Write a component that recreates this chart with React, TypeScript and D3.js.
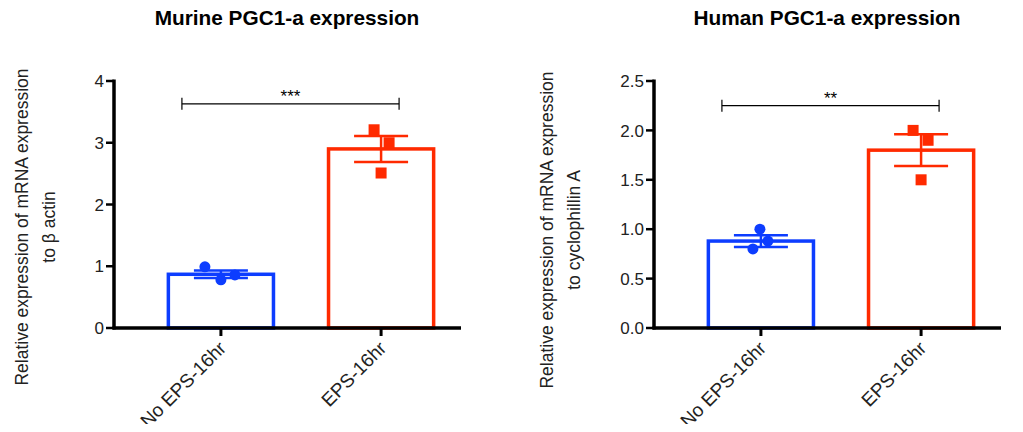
import React from 'react';
import * as d3 from 'd3';

// categories and values
const groups = ['No EPS-16hr', 'EPS-16hr'];
const colors = ['#0d3dff', '#ff2a00'];

const murineMeans = [0.87, 2.9];
const murineSem = [0.06, 0.21];
const murinePoints = [[0.99, 0.78, 0.86], [3.21, 3.0, 2.51]];
const murineTicks = [0, 1, 2, 3, 4];

const humanMeans = [0.88, 1.8];
const humanSem = [0.06, 0.16];
const humanPoints = [[0.8, 1.0, 0.88], [2.0, 1.9, 1.5]];
const humanTicks = [0, 0.5, 1.0, 1.5, 2.0, 2.5];

const FONT = 'Liberation Sans, Arial, sans-serif';

type PanelProps = {
  left: number;
  title: string;
  ylab: string[];
  labX: number;
  labY: number;
  means: number[];
  sem: number[];
  points: number[][];
  ticks: number[];
  yMax: number;
  fmt: (v: number) => string;
  bracket: number;
  stars: string;
  jitter: number[][];
};

function Panel(p: PanelProps) {
  const x0 = p.left;
  const width = 347;
  const top = 81;
  const bottom = 328;
  const y = d3.scaleLinear().domain([0, p.yMax]).range([bottom, top]);
  const x = d3.scaleBand().domain(groups).range([x0, x0 + 374]).paddingInner(0.325).paddingOuter(0.33);
  const bw = x.bandwidth();
  const cx = (g: string) => (x(g) as number) + bw / 2;
  const bx1 = cx(groups[0]) - 39;
  const bx2 = cx(groups[1]) + 18;

  return (
    <g>
      <text x={x0 + 173} y={25} textAnchor="middle" fontFamily={FONT} fontWeight="bold" fontSize={20.8}>{p.title}</text>
      <g transform={`translate(${p.labX},${p.labY}) rotate(-90)`}>
        {p.ylab.map((l, i) => (
          <text key={i} x={0} y={i * 27} textAnchor="middle" fontFamily={FONT} fontSize={17.5} fill="#222">{l}</text>
        ))}
      </g>
      {/* bars */}
      {groups.map((g, i) => (
        <rect key={g} x={(x(g) as number) + 1.5} y={y(p.means[i])} width={bw - 3} height={bottom - y(p.means[i])}
          fill="none" stroke={colors[i]} strokeWidth={3.5} />
      ))}
      {/* error bars */}
      {groups.map((g, i) => {
        const c = cx(g);
        const hi = y(p.means[i] + p.sem[i]);
        const lo = y(p.means[i] - p.sem[i]);
        return (
          <g key={g} stroke={colors[i]} strokeWidth={2.5}>
            <line x1={c} x2={c} y1={hi} y2={lo} />
            <line x1={c - 27} x2={c + 27} y1={hi} y2={hi} />
            <line x1={c - 27} x2={c + 27} y1={lo} y2={lo} />
          </g>
        );
      })}
      {/* points */}
      {groups.map((g, i) =>
        p.points[i].map((v, j) => {
          const px = cx(g) + p.jitter[i][j];
          return i === 0 ? (
            <circle key={`${g}${j}`} cx={px} cy={y(v)} r={5.5} fill={colors[i]} />
          ) : (
            <rect key={`${g}${j}`} x={px - 5.5} y={y(v) - 5.5} width={11} height={11} fill={colors[i]} />
          );
        })
      )}
      {/* axes */}
      <line x1={x0} x2={x0} y1={top - 1.5} y2={bottom + 1.5} stroke="#000" strokeWidth={3.5} />
      <line x1={x0 - 1.5} x2={x0 + width} y1={bottom} y2={bottom} stroke="#000" strokeWidth={3.5} />
      {p.ticks.map(t => (
        <g key={t}>
          <line x1={x0 - 8} x2={x0} y1={y(t)} y2={y(t)} stroke="#000" strokeWidth={2.5} />
          <text x={x0 - 10} y={y(t)} dy="0.36em" textAnchor="end" fontFamily={FONT} fontSize={17} fill="#222">{p.fmt(t)}</text>
        </g>
      ))}
      {groups.map(g => (
        <g key={g}>
          <line x1={cx(g)} x2={cx(g)} y1={bottom} y2={bottom + 8} stroke="#000" strokeWidth={3} />
          <text transform={`translate(${cx(g) - 3},${bottom + 12}) rotate(-45)`} textAnchor="end" dy="0.7em"
            fontFamily={FONT} fontSize={19} fill="#222">{g}</text>
        </g>
      ))}
      {/* significance bracket */}
      <g stroke="#000" strokeWidth={1.2}>
        <line x1={bx1} x2={bx2} y1={y(p.bracket)} y2={y(p.bracket)} />
        <line x1={bx1} x2={bx1} y1={y(p.bracket) - 6} y2={y(p.bracket) + 6} />
        <line x1={bx2} x2={bx2} y1={y(p.bracket) - 6} y2={y(p.bracket) + 6} />
      </g>
      <text x={(bx1 + bx2) / 2} y={y(p.bracket) - 2} textAnchor="middle"
        fontFamily={FONT} fontSize={17}>{p.stars}</text>
    </g>
  );
}

export default function App() {
  return (
    <svg width={1023} height={432} style={{ display: 'block', margin: '-8px' }}>
      <rect width={1023} height={432} fill="#fff" />
      <Panel left={114} title="Murine PGC1-a expression" ylab={['Relative expression of mRNA expression', 'to β actin']}
        labX={28} labY={227}
        means={murineMeans} sem={murineSem} points={murinePoints} ticks={murineTicks} yMax={4}
        fmt={d3.format('d')} bracket={3.63} stars="***" jitter={[[-16, 0, 14], [-7, 8, 0]]} />
      <Panel left={654} title="Human PGC1-a expression" ylab={['Relative expression of mRNA expression', 'to cyclophillin A']}
        labX={553} labY={230}
        means={humanMeans} sem={humanSem} points={humanPoints} ticks={humanTicks} yMax={2.5}
        fmt={d3.format('.1f')} bracket={2.25} stars="**" jitter={[[-8, -1, 7], [-8, 7, 0]]} />
    </svg>
  );
}
